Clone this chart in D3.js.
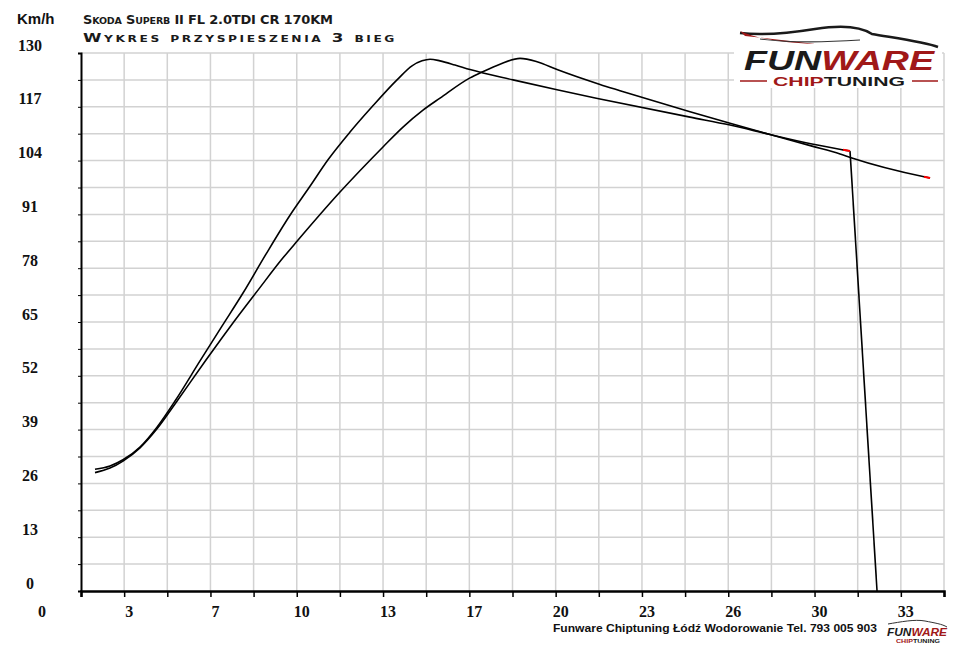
<!DOCTYPE html>
<html>
<head>
<meta charset="utf-8">
<script src="https://cdn.jsdelivr.net/npm/d3@7"></script>
<style>
  body { margin: 0; background: #fff; }
  svg { display: block; }
</style>
</head>
<body>
<svg id="chart"></svg>
<script>
// run A (quicker one, stops with the drop to 0)
const runATime  = [1.874, 2.453, 2.955, 3.612, 4.269, 4.964, 5.930, 6.779, 7.591, 8.479, 9.406, 10.178, 10.874, 11.724, 12.574, 13.539, 14.119, 14.505, 14.814, 15.200, 15.779, 16.359, 18.020, 19.720, 21.380, 24.857, 26.402, 27.947, 29.569, 30.767, 31.037, 32.080];
const runASpeed = [29.4, 30.2, 31.7, 34.8, 39.6, 45.9, 55.6, 64.0, 72.0, 81.4, 90.8, 97.8, 104.2, 110.9, 117.0, 123.5, 126.9, 128.1, 128.5, 128.1, 127.1, 126.0, 123.5, 121.1, 118.9, 114.5, 112.6, 110.3, 108.0, 106.6, 106.3, 0];

// run B
const runBTime  = [1.874, 2.453, 2.955, 3.612, 4.269, 4.964, 6.161, 7.088, 8.170, 9.136, 9.676, 11.337, 12.998, 13.770, 14.543, 15.200, 16.359, 16.822, 17.518, 18.290, 18.947, 19.720, 21.380, 22.153, 24.857, 26.402, 27.947, 29.569, 30.651, 31.076, 33.895, 34.128];
const runBSpeed = [28.6, 29.7, 31.4, 34.6, 39.2, 45.2, 55.8, 63.8, 72.7, 80.5, 84.5, 96.4, 107.3, 112.1, 116.2, 119.1, 124.0, 125.4, 127.3, 128.7, 127.9, 126.0, 122.4, 120.9, 115.8, 113.0, 110.3, 107.5, 105.6, 104.7, 100.1, 99.8];

// axes
const yTickLabels = [0, 13, 26, 39, 52, 65, 78, 91, 104, 117, 130];
const xTickLabels = ["3", "7", "10", "13", "17", "20", "23", "26", "30", "33"];

const titleLine1 = "Skoda Superb II FL 2.0TDI CR 170KM";
const titleLine2 = "Wykres przyspieszenia 3 bieg";
const footerText = "Funware Chiptuning Łódź Wodorowanie Tel. 793 005 903";

// fake small caps: lowercase letters become smaller capitals
function smallCaps(textSel, str, big, small) {
    const runs = [];
    for (const ch of str) {
        const isSmall = ch !== ch.toUpperCase();
        const last = runs[runs.length - 1];
        if (last && last.small === isSmall) last.text += ch;
        else runs.push({ small: isSmall, text: ch });
    }
    runs.forEach(r => {
        textSel.append("tspan")
            .style("font-size", (r.small ? small : big) + "px")
            .text(r.text.toUpperCase());
    });
}

function drawChart() {
    const width = 960;
    const height = 647;
    const left = 81, right = 944, top = 53, bottom = 591;

    const svg = d3.select("#chart")
        .attr("width", width)
        .attr("height", height)
        .style("background", "#fff");

    const x = d3.scaleLinear().domain([4 / 3, 104 / 3]).range([left, right]);
    const y = d3.scaleLinear().domain([0, 130]).range([bottom, top]);

    // grid every 5/3 s and 6.5 km/h
    const xGrid = d3.range(21).map(k => 4 / 3 + k * 5 / 3);
    const yGrid = d3.range(21).map(k => k * 6.5);

    svg.append("g")
        .selectAll("line")
        .data(xGrid.slice(1))
        .join("line")
        .attr("x1", d => x(d)).attr("x2", d => x(d))
        .attr("y1", top).attr("y2", bottom)
        .attr("stroke", "#d2d2d2")
        .attr("stroke-width", 1.5);

    svg.append("g")
        .selectAll("line")
        .data(yGrid.slice(1))
        .join("line")
        .attr("x1", left).attr("x2", right)
        .attr("y1", d => y(d)).attr("y2", d => y(d))
        .attr("stroke", "#d2d2d2")
        .attr("stroke-width", 1.5);

    // axis lines + ticks
    const xAxis = d3.axisBottom(x).tickValues(xGrid).tickSize(6).tickFormat("");
    svg.append("g")
        .attr("transform", `translate(0,${bottom})`)
        .call(xAxis)
        .call(g => g.select(".domain").attr("stroke", "#000").attr("stroke-width", 2.5))
        .call(g => g.selectAll(".tick line").attr("stroke", "#000").attr("stroke-width", 1.5));

    const yAxis = d3.axisLeft(y).tickValues(yGrid).tickSize(3).tickFormat("");
    svg.append("g")
        .attr("transform", `translate(${left},0)`)
        .call(yAxis)
        .call(g => g.select(".domain").attr("stroke", "#000").attr("stroke-width", 2))
        .call(g => g.selectAll(".tick line").attr("stroke", "#000").attr("stroke-width", 1));

    // y labels
    svg.append("g")
        .selectAll("text")
        .data(yTickLabels)
        .join("text")
        .attr("x", 30)
        .attr("y", d => y(d) - 2.5)
        .attr("text-anchor", "middle")
        .style("font", "bold 16px 'Liberation Serif', serif")
        .style("fill", "#111")
        .text(d => d);

    // x labels sit on every second grid line
    svg.append("g")
        .selectAll("text")
        .data(xTickLabels)
        .join("text")
        .attr("x", (d, i) => x(xGrid[2 * i + 1]) + 5)
        .attr("y", 617)
        .attr("text-anchor", "middle")
        .style("font", "bold 16px 'Liberation Serif', serif")
        .style("fill", "#111")
        .text(d => d);

    svg.append("text")
        .attr("x", 42).attr("y", 617)
        .attr("text-anchor", "middle")
        .style("font", "bold 16px 'Liberation Serif', serif")
        .style("fill", "#111")
        .text("0");

    svg.append("text")
        .attr("x", 17).attr("y", 24)
        .style("font", "bold 15px 'Liberation Sans', sans-serif")
        .style("fill", "#111")
        .text("Km/h");

    // titles, wide copperplate-ish look
    const t1 = svg.append("text")
        .attr("x", 83).attr("y", 23.5)
        .attr("textLength", 250)
        .attr("lengthAdjust", "spacing")
        .style("font-family", "'DejaVu Sans', sans-serif")
        .style("font-weight", "bold")
        .style("fill", "#1a1a1a");
    smallCaps(t1, titleLine1, 13, 9.5);

    const t2 = svg.append("text")
        .attr("x", 83).attr("y", 42)
        .attr("textLength", 314)
        .attr("lengthAdjust", "spacingAndGlyphs")
        .style("font-family", "'DejaVu Sans', sans-serif")
        .style("font-weight", "bold")
        .style("letter-spacing", "2px")
        .style("fill", "#1a1a1a");
    smallCaps(t2, titleLine2, 13, 9.5);

    // curves
    const runA = runATime.map((t, i) => [t, runASpeed[i]]);
    const runB = runBTime.map((t, i) => [t, runBSpeed[i]]);

    const smooth = d3.line().x(d => x(d[0])).y(d => y(d[1])).curve(d3.curveMonotoneX);
    const straight = d3.line().x(d => x(d[0])).y(d => y(d[1]));

    const curves = svg.append("g")
        .attr("fill", "none")
        .attr("stroke", "#000")
        .attr("stroke-width", 1.6)
        .attr("stroke-linejoin", "round");

    curves.append("path").attr("d", smooth(runA.slice(0, -1)));
    curves.append("path").attr("d", straight(runA.slice(-2)));
    curves.append("path").attr("d", smooth(runB));

    // red end markers
    curves.append("path").attr("d", straight(runA.slice(-3, -1))).attr("stroke", "#ff0000").attr("stroke-width", 2);
    curves.append("path").attr("d", straight(runB.slice(-2))).attr("stroke", "#ff0000").attr("stroke-width", 2);

    // logo top right
    const logo = svg.append("g");
    logo.append("rect")
        .attr("x", 734).attr("y", 22).attr("width", 208).attr("height", 66)
        .attr("fill", "#fff");
    logo.append("path")
        .attr("d", "M740,33 C765,36 790,33 815,29 C840,25 860,26 872,34 C895,38 925,42 938,47")
        .attr("fill", "none").attr("stroke", "#1a1a1a").attr("stroke-width", 2.5);
    logo.append("path")
        .attr("d", "M740,31 C760,40 790,43 815,44 C790,41 765,38 745,36 Z")
        .attr("fill", "#a01818");
    logo.append("path")
        .attr("d", "M760,39 C790,43 830,42 860,40")
        .attr("fill", "none").attr("stroke", "#333").attr("stroke-width", 1.2);

    const logoText = logo.append("text")
        .attr("x", 744).attr("y", 69.5)
        .attr("textLength", 190)
        .attr("lengthAdjust", "spacingAndGlyphs")
        .style("font", "italic bold 27px 'Liberation Sans', sans-serif");
    logoText.append("tspan").attr("fill", "#1a1a1a").text("FUN");
    logoText.append("tspan").attr("fill", "#a01818").text("WARE");

    const chipText = logo.append("text")
        .attr("x", 773).attr("y", 86)
        .attr("textLength", 132)
        .attr("lengthAdjust", "spacingAndGlyphs")
        .style("font", "bold 12.5px 'Liberation Sans', sans-serif");
    chipText.append("tspan").attr("fill", "#a01818").text("CHIP");
    chipText.append("tspan").attr("fill", "#1a1a1a").text("TUNING");

    logo.append("line").attr("x1", 740).attr("x2", 767).attr("y1", 81).attr("y2", 81)
        .attr("stroke", "#a01818").attr("stroke-width", 1.5);
    logo.append("line").attr("x1", 912).attr("x2", 938).attr("y1", 81).attr("y2", 81)
        .attr("stroke", "#a01818").attr("stroke-width", 1.5);

    // footer
    svg.append("text")
        .attr("x", 553).attr("y", 632)
        .attr("textLength", 324)
        .attr("lengthAdjust", "spacingAndGlyphs")
        .style("font", "bold 11px 'Liberation Sans', sans-serif")
        .style("fill", "#111")
        .text(footerText);

    const mini = svg.append("g");
    mini.append("path")
        .attr("d", "M888,624 C900,622 915,619 925,621 C935,623 942,624 947,627")
        .attr("fill", "none").attr("stroke", "#333").attr("stroke-width", 1);
    const miniText = mini.append("text")
        .attr("x", 887).attr("y", 636)
        .attr("textLength", 60)
        .attr("lengthAdjust", "spacingAndGlyphs")
        .style("font", "italic bold 11px 'Liberation Sans', sans-serif");
    miniText.append("tspan").attr("fill", "#1a1a1a").text("FUN");
    miniText.append("tspan").attr("fill", "#a01818").text("WARE");
    const miniChip = mini.append("text")
        .attr("x", 896).attr("y", 643)
        .attr("textLength", 44)
        .attr("lengthAdjust", "spacingAndGlyphs")
        .style("font", "bold 5px 'Liberation Sans', sans-serif");
    miniChip.append("tspan").attr("fill", "#a01818").text("CHIP");
    miniChip.append("tspan").attr("fill", "#1a1a1a").text("TUNING");
}

window.onload = drawChart;
</script>
</body>
</html>
